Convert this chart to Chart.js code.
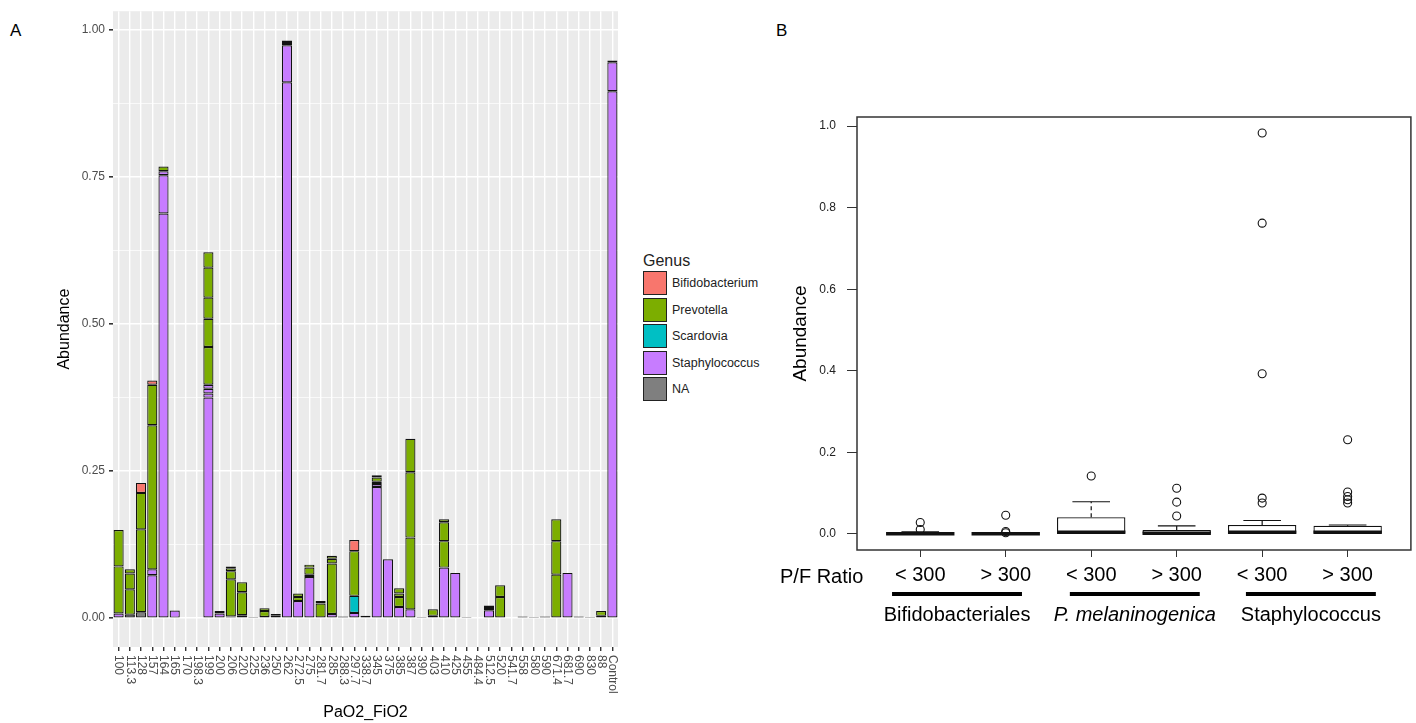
<!DOCTYPE html>
<html>
<head>
<meta charset="utf-8">
<script src="https://cdn.jsdelivr.net/npm/chart.js@4.4.1/dist/chart.umd.min.js"></script>
<style>
  body { margin: 0; background: #fff; font-family: "Liberation Sans", Arial, sans-serif; }
  #wrap { position: relative; width: 1416px; height: 723px; overflow: hidden; }
  .tag { position: absolute; font-size: 17px; color: #000; }
  #chartA { position: absolute; left: 0; top: 0; }
  #chartB { position: absolute; left: 770px; top: 0; }
  #legend { position: absolute; left: 643px; top: 251px; }
  #legend .ttl { font-size: 16px; line-height: 19px; color: #222; }
  #legend .row { display: flex; align-items: center; height: 26.5px; font-size: 12.5px; color: #222; }
  #legend .key { width: 24px; height: 24px; border: 1.3px solid #222; box-sizing: border-box; margin-right: 5px; }
</style>
</head>
<body>
<div id="wrap">
  <div class="tag" style="left:10px; top:21px;">A</div>
  <div class="tag" style="left:776px; top:21px;">B</div>
  <canvas id="chartA" width="622" height="723"></canvas>
  <div id="legend"></div>
  <canvas id="chartB" width="646" height="723"></canvas>
</div>
<script>
// ---------- Panel A: stacked abundance per PaO2/FiO2 sample ----------
const xLabels = ["100", "113.3", "128", "157", "164", "165", "170", "198.3", "199", "200",
  "206", "220", "225", "236", "250", "262", "272.5", "275", "281.7", "285",
  "288.3", "297.7", "338.7", "345", "375", "385", "387", "390", "403", "410",
  "425", "455", "484.4", "512.5", "520", "541.7", "558", "580", "590", "671.4",
  "681.7", "690", "830", "88", "Control"];

const genusNames = ["Bifidobacterium", "Prevotella", "Scardovia", "Staphylococcus", "NA"];
const genusColors = ["#F8766D", "#7CAE00", "#00BFC4", "#C77CFF", "#7F7F7F"];

// stacked from the bottom up: NA, Staphylococcus, Scardovia, Prevotella, Bifidobacterium
const naVals = [0, 0.006, 0.010, 0, 0, 0.001, 0.001, 0.001, 0, 0,
  0, 0, 0.002, 0.002, 0.004, 0, 0, 0, 0, 0,
  0.003, 0, 0.004, 0, 0, 0, 0, 0.002, 0.004, 0,
  0, 0.002, 0.001, 0, 0, 0.001, 0.003, 0.0005, 0.003, 0,
  0, 0.003, 0.0005, 0.004, 0];
const staphA = [0.008, 0, 0, 0.073, 0.688, 0.012, 0, 0, 0.375, 0.008,
  0.003, 0.005, 0, 0, 0.003, 0.911, 0.029, 0.070, 0, 0.007,
  0, 0.009, 0, 0.223, 0.100, 0.019, 0.015, 0, 0, 0.086,
  0.077, 0, 0, 0.0135, 0, 0, 0, 0, 0, 0,
  0.077, 0, 0, 0, 0.896];
const staphB = [0, 0, 0, 0.010, 0.065, 0, 0, 0, 0.007, 0,
  0, 0, 0, 0, 0, 0.063, 0, 0.004, 0, 0,
  0, 0, 0, 0.005, 0, 0, 0, 0, 0, 0,
  0, 0, 0, 0, 0, 0, 0, 0, 0, 0,
  0, 0, 0, 0, 0.049];
const staphC = [0, 0, 0, 0, 0.007, 0, 0, 0, 0.008, 0,
  0, 0, 0, 0, 0, 0.004, 0, 0, 0, 0,
  0, 0, 0, 0, 0, 0, 0, 0, 0, 0,
  0, 0, 0, 0, 0, 0, 0, 0, 0, 0,
  0, 0, 0, 0, 0.003];
const staphD = [0, 0, 0, 0, 0, 0, 0, 0, 0.007, 0,
  0, 0, 0, 0, 0, 0.004, 0, 0, 0, 0,
  0, 0, 0, 0, 0, 0, 0, 0, 0, 0,
  0, 0, 0, 0, 0, 0, 0, 0, 0, 0,
  0, 0, 0, 0, 0];
const scardVals = [0, 0, 0, 0, 0, 0, 0, 0, 0, 0,
  0, 0, 0, 0, 0, 0, 0, 0, 0, 0,
  0, 0.029, 0, 0, 0, 0, 0, 0, 0, 0,
  0, 0, 0, 0, 0, 0, 0, 0, 0, 0,
  0, 0, 0, 0, 0];
const prevA = [0.080, 0.043, 0.141, 0.245, 0.008, 0, 0, 0, 0.064, 0.004,
  0.063, 0.039, 0, 0.010, 0, 0, 0.007, 0.012, 0.025, 0.086,
  0, 0.076, 0, 0.004, 0, 0.017, 0.122, 0, 0.011, 0.045,
  0, 0, 0, 0.004, 0.036, 0, 0, 0, 0, 0.074,
  0, 0, 0, 0.008, 0];
const prevB = [0.062, 0.027, 0.062, 0.069, 0, 0, 0, 0, 0.048, 0,
  0.014, 0.017, 0, 0.005, 0, 0, 0.006, 0.005, 0.004, 0.008,
  0, 0, 0, 0.007, 0, 0.006, 0.111, 0, 0, 0.032,
  0, 0, 0, 0.004, 0.020, 0, 0, 0, 0, 0.057,
  0, 0, 0, 0, 0];
const prevC = [0, 0.007, 0, 0, 0, 0, 0, 0, 0.036, 0,
  0.005, 0, 0, 0, 0, 0, 0, 0, 0, 0.005,
  0, 0, 0, 0.004, 0, 0.009, 0.057, 0, 0, 0.005,
  0, 0, 0, 0, 0, 0, 0, 0, 0, 0.037,
  0, 0, 0, 0, 0];
const prevD = [0, 0, 0, 0, 0, 0, 0, 0, 0.051, 0,
  0, 0, 0, 0, 0, 0, 0, 0, 0, 0,
  0, 0, 0, 0, 0, 0, 0, 0, 0, 0,
  0, 0, 0, 0, 0, 0, 0, 0, 0, 0,
  0, 0, 0, 0, 0];
const prevE = [0, 0, 0, 0, 0, 0, 0, 0, 0.026, 0,
  0, 0, 0, 0, 0, 0, 0, 0, 0, 0,
  0, 0, 0, 0, 0, 0, 0, 0, 0, 0,
  0, 0, 0, 0, 0, 0, 0, 0, 0, 0,
  0, 0, 0, 0, 0];
const bifidoVals = [0, 0, 0.017, 0.007, 0, 0, 0, 0, 0, 0,
  0.003, 0, 0, 0, 0, 0, 0, 0, 0, 0,
  0, 0.019, 0, 0, 0, 0, 0, 0, 0, 0,
  0, 0, 0, 0, 0, 0, 0, 0, 0, 0,
  0, 0, 0, 0, 0];

const yTicksA = [0, 0.125, 0.25, 0.375, 0.5, 0.625, 0.75, 0.875, 1];

// ---------- Panel B: box plots by P/F ratio ----------
const pfX = [1, 2, 3, 4, 5, 6];
const pfLabels = ["< 300", "> 300", "< 300", "> 300", "< 300", "> 300"];
const groupNames = ["Bifidobacteriales", "P. melaninogenica", "Staphylococcus"];
const groupCenters = [1.43, 3.51, 5.57];
const q1Vals = [0, 0, 0.002, 0, 0.001, 0.001];
const medVals = [0.0005, 0.0003, 0.004, 0.002, 0.004, 0.004];
const q3Vals = [0.002, 0.001, 0.041, 0.010, 0.022, 0.020];
const whiskHi = [0.005, 0.002, 0.079, 0.020, 0.033, 0.022];
const outliers = [
  [0.028, 0.011],
  [0.046, 0.006, 0.003],
  [0.142],
  [0.112, 0.078, 0.044],
  [0.983, 0.762, 0.393, 0.088, 0.076],
  [0.231, 0.103, 0.092, 0.084, 0.076],
];
const yTicksB = [0, 0.2, 0.4, 0.6, 0.8, 1.0];

const FONT = '"Liberation Sans", Arial, sans-serif';
Chart.defaults.font.family = FONT;
Chart.defaults.animation = false;

// legend (ggplot style, to the right of panel A)
const legendEl = document.getElementById("legend");
legendEl.innerHTML = '<div class="ttl">Genus</div>' + genusNames
  .map((g, i) => `<div class="row"><span class="key" style="background:${genusColors[i]}"></span>${g}</div>`)
  .join("");

const layers = [
  [naVals, 4], [staphA, 3], [staphB, 3], [staphC, 3], [staphD, 3],
  [scardVals, 2], [prevA, 1], [prevB, 1], [prevC, 1], [prevD, 1], [prevE, 1],
  [bifidoVals, 0],
];

// grey ggplot panel
const panelBg = {
  id: "panelBg",
  beforeDraw(chart) {
    const { ctx, chartArea: a } = chart;
    ctx.save();
    ctx.fillStyle = "#EBEBEB";
    ctx.fillRect(a.left, a.top, a.right - a.left, a.bottom - a.top);
    ctx.restore();
  },
};

// x labels rotated clockwise like ggplot angle = -90
const verticalLabels = {
  id: "verticalLabels",
  afterDraw(chart) {
    const { ctx } = chart;
    const x = chart.scales.x;
    ctx.save();
    ctx.font = "12px " + FONT;
    ctx.fillStyle = "#4D4D4D";
    ctx.textAlign = "left";
    ctx.textBaseline = "middle";
    xLabels.forEach((lab, i) => {
      ctx.save();
      ctx.translate(x.getPixelForTick(i), x.top + 8);
      ctx.rotate(Math.PI / 2);
      ctx.fillText(lab, 0, 0);
      ctx.restore();
    });
    ctx.restore();
  },
};

const isMajor = (v) => Math.abs(v * 4 - Math.round(v * 4)) < 1e-6;

new Chart(document.getElementById("chartA"), {
  type: "bar",
  data: {
    labels: xLabels,
    datasets: layers.map(([vals, g]) => ({
      label: genusNames[g],
      data: vals.map((v) => (v ? v : null)),
      backgroundColor: genusColors[g],
      borderColor: "#111",
      borderWidth: 1.2,
      borderSkipped: false,
      categoryPercentage: 0.9,
      barPercentage: 1,
    })),
  },
  options: {
    responsive: false,
    layout: { padding: { left: 51, top: 7, right: 4, bottom: 0 } },
    plugins: { legend: { display: false }, tooltip: { enabled: false } },
    scales: {
      x: {
        stacked: true,
        afterFit: (s) => { s.height = 76; },
        grid: { offset: false, color: "#FFFFFF", lineWidth: 1.4, tickColor: "#333", tickLength: 4 },
        border: { display: false },
        ticks: { display: false },
        title: { display: true, text: "PaO2_FiO2", color: "#000", font: { size: 16 }, padding: { top: 0, bottom: 1 } },
      },
      y: {
        stacked: true,
        min: -0.049,
        max: 1.032,
        afterFit: (s) => { s.width = 62; },
        afterBuildTicks: (s) => { s.ticks = yTicksA.map((v) => ({ value: v })); },
        grid: {
          color: "#FFFFFF",
          lineWidth: (c) => (isMajor(c.tick.value) ? 1.6 : 0.7),
          tickColor: (c) => (isMajor(c.tick.value) ? "#333" : "rgba(0,0,0,0)"),
          tickLength: 4,
        },
        border: { display: false },
        ticks: {
          color: "#4D4D4D",
          font: { size: 12 },
          padding: 4,
          callback: (v) => (isMajor(v) ? v.toFixed(2) : ""),
        },
        title: { display: true, text: "Abundance", color: "#000", font: { size: 16 }, padding: { top: 4, bottom: 0 } },
      },
    },
  },
  plugins: [panelBg, verticalLabels],
});

// whiskers, medians, frame and group captions for panel B
const boxExtras = {
  id: "boxExtras",
  afterDatasetsDraw(chart) {
    const { ctx } = chart;
    const y = chart.scales.y;
    const meta = chart.getDatasetMeta(0);
    ctx.save();
    ctx.strokeStyle = "#111";
    meta.data.forEach((bar, i) => {
      const half = bar.width / 2;
      const cx = bar.x;
      const yq3 = y.getPixelForValue(q3Vals[i]);
      const yhi = y.getPixelForValue(whiskHi[i]);
      ctx.lineWidth = 1.2;
      ctx.setLineDash([4, 3]);
      ctx.beginPath();
      ctx.moveTo(cx, yq3);
      ctx.lineTo(cx, yhi);
      ctx.stroke();
      ctx.setLineDash([]);
      ctx.beginPath();
      ctx.moveTo(cx - half * 0.55, yhi);
      ctx.lineTo(cx + half * 0.55, yhi);
      ctx.stroke();
      const ym = y.getPixelForValue(medVals[i]);
      ctx.lineWidth = 3.5;
      ctx.beginPath();
      ctx.moveTo(cx - half, ym);
      ctx.lineTo(cx + half, ym);
      ctx.stroke();
    });
    ctx.restore();
  },
  afterDraw(chart) {
    const { ctx, chartArea: a } = chart;
    const x = chart.scales.x;
    ctx.save();
    ctx.strokeStyle = "#333";
    ctx.lineWidth = 1.5;
    ctx.strokeRect(a.left, a.top, a.right - a.left, a.bottom - a.top);

    ctx.fillStyle = "#000";
    ctx.font = "20px " + FONT;
    ctx.textAlign = "left";
    ctx.textBaseline = "middle";
    ctx.fillText("P/F Ratio", 10, a.bottom + 27);

    groupCenters.forEach((c, g) => {
      ctx.strokeStyle = "#000";
      ctx.lineWidth = 4;
      ctx.beginPath();
      ctx.moveTo(x.getPixelForValue(c - 0.76), a.bottom + 44);
      ctx.lineTo(x.getPixelForValue(c + 0.76), a.bottom + 44);
      ctx.stroke();
      ctx.font = (g === 1 ? "italic " : "") + "20px " + FONT;
      ctx.textAlign = "center";
      ctx.fillText(groupNames[g], x.getPixelForValue(c), a.bottom + 65);
    });
    ctx.restore();
  },
};

new Chart(document.getElementById("chartB"), {
  type: "bar",
  data: {
    datasets: [
      {
        type: "bar",
        data: pfX.map((v, i) => ({ x: v, y: [q1Vals[i], q3Vals[i]] })),
        backgroundColor: "#FFFFFF",
        borderColor: "#111",
        borderWidth: 1.3,
        borderSkipped: false,
        categoryPercentage: 0.8,
        barPercentage: 1,
      },
      {
        type: "scatter",
        data: outliers.flatMap((list, i) => list.map((v) => ({ x: pfX[i], y: v }))),
        pointStyle: "circle",
        pointRadius: 4,
        backgroundColor: "rgba(0,0,0,0)",
        borderColor: "#111",
        borderWidth: 1.1,
      },
    ],
  },
  options: {
    responsive: false,
    layout: { padding: { left: 0, top: 117, right: 4, bottom: 0 } },
    plugins: { legend: { display: false }, tooltip: { enabled: false } },
    scales: {
      x: {
        type: "linear",
        offset: false,
        min: 0.26,
        max: 6.74,
        afterFit: (s) => { s.height = 173; },
        afterBuildTicks: (s) => { s.ticks = pfX.map((v) => ({ value: v })); },
        grid: { offset: false, drawOnChartArea: false, color: "#333", tickLength: 7 },
        border: { display: false },
        ticks: { color: "#000", font: { size: 20 }, padding: 6, callback: (v, i) => pfLabels[i] },
      },
      y: {
        min: -0.0393,
        max: 1.0223,
        afterFit: (s) => { s.width = 87; },
        afterBuildTicks: (s) => { s.ticks = yTicksB.map((v) => ({ value: v })); },
        grid: { drawOnChartArea: false, color: "#333", tickLength: 10 },
        border: { display: false },
        ticks: { color: "#222", font: { size: 12 }, padding: 11, callback: (v) => v.toFixed(1) },
        title: { display: true, text: "Abundance", color: "#000", font: { size: 19 }, padding: { top: 19, bottom: 0 } },
      },
    },
  },
  plugins: [boxExtras],
});
</script>
</body>
</html>
